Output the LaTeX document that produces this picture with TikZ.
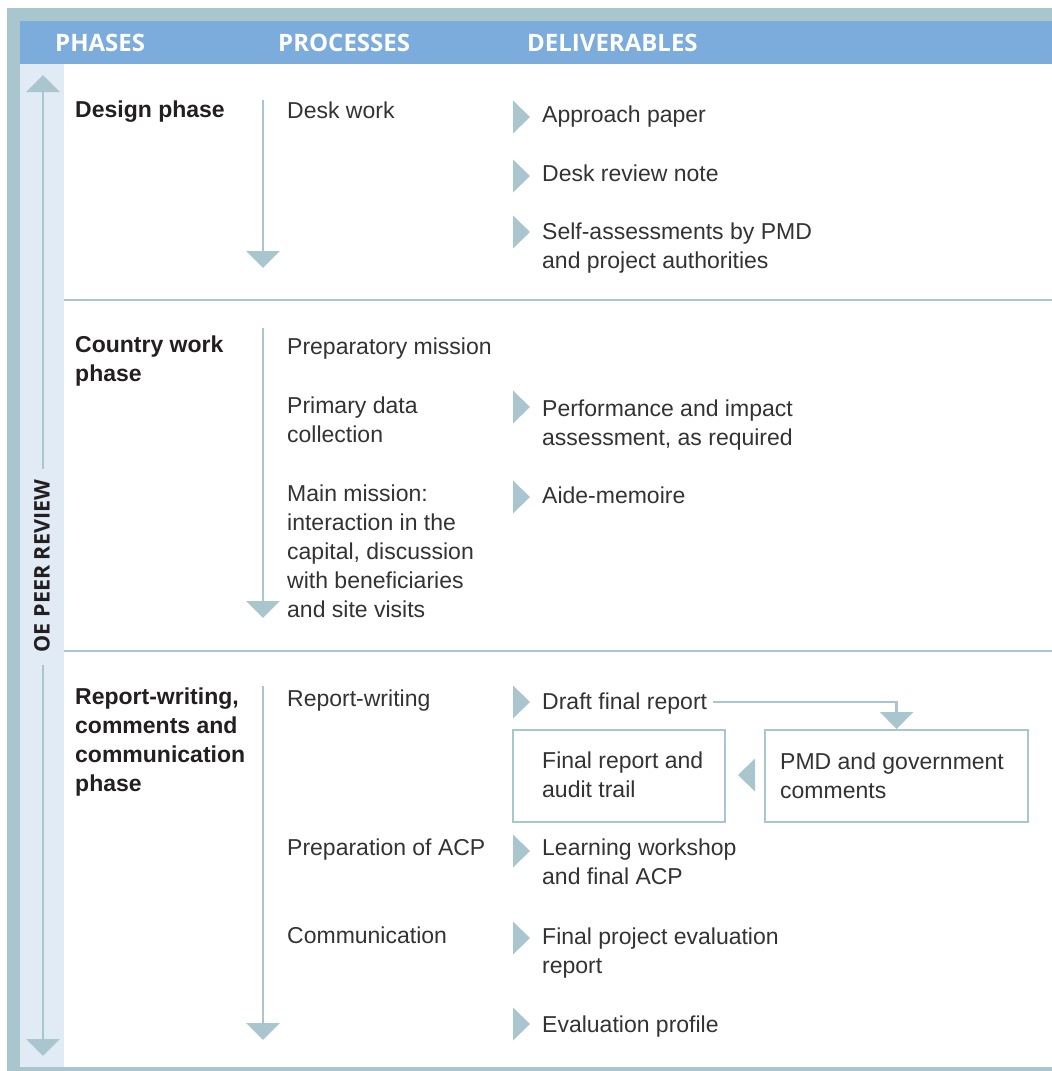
\documentclass[tikz,border=0pt]{standalone}
\usepackage{fontspec}
\setmainfont{Liberation Sans}
\newfontfamily\headfont{Open Sans}
\usetikzlibrary{arrows.meta}
\definecolor{frame}{HTML}{A9C6CE}
\definecolor{headblue}{HTML}{7BACDB}
\definecolor{strip}{HTML}{E1EBF6}
\definecolor{txt}{HTML}{333333}
\definecolor{dark}{HTML}{231F20}
\begin{document}
\begin{tikzpicture}[x=1pt,y=-1pt,
  flow/.style={draw=frame, line width=2.4pt, -{Triangle[width=33pt,length=17pt]}},
  plain/.style={draw=frame, line width=2.4pt},
  body/.style={anchor=base west, inner sep=0pt, text=txt, font=\fontsize{23}{28.8}\selectfont, align=left},
  phase/.style={body, text=dark, font=\fontsize{23}{28.8}\selectfont\bfseries},
  head/.style={anchor=base west, inner sep=0pt, text=white, font=\headfont\bfseries\fontsize{24}{28}\selectfont},
  boxst/.style={draw=frame, line width=2.2pt, anchor=north west, minimum height=92pt, inner sep=0pt},
  mk/.pic={\fill[frame] (-8,-16.5) -- (9,0) -- (-8,16.5) -- cycle;},
  mkl/.pic={\fill[frame] (9,-16.5) -- (-8,0) -- (9,16.5) -- cycle;},
]
\useasboundingbox (0,0) rectangle (1052,1071);
\fill[white] (0,0) rectangle (1052,1071);
\fill[frame] (7,8) rectangle (1052,1071);
\fill[white] (20,21) rectangle (1052,1067);
\fill[headblue] (20,21) rectangle (1052,64);
\fill[strip] (20,64) rectangle (64,1067);

% header
\node[head] (hph) at (55,51) {PHASES};
\node[head] (hpr) at (278,51) {PROCESSES};
\node[head] (hde) at (527,51) {DELIVERABLES};

% separators
\coordinate (s1a) at (64,300); \coordinate (s1b) at (1052,300);
\coordinate (s2a) at (64,651); \coordinate (s2b) at (1052,651);
\draw[plain] (s1a) -- (s1b);
\draw[plain] (s2a) -- (s2b);

% left review arrow
\node[rotate=90, inner sep=0pt, text=dark, font=\headfont\bfseries\fontsize{21.5}{24}\selectfont] (oe) at (42,566) {OE PEER REVIEW};
\coordinate (la) at (43,469); \coordinate (lt) at (43,75);
\coordinate (lb) at (43,665); \coordinate (lbt) at (43,1056);
\draw[flow] (la) -- (lt);
\draw[flow] (lb) -- (lbt);

% phases (multi-line nodes: base = last line)
\node[phase] (ph1) at (75,117) {Design phase};
\node[phase] (ph2) at (75,381) {Country work\\phase};
\node[phase] (ph3) at (75,791) {Report-writing,\\comments and\\communication\\phase};

% process arrows
\coordinate (p1a) at (263,100); \coordinate (p1b) at (263,268);
\coordinate (p2a) at (263,328); \coordinate (p2b) at (263,618);
\coordinate (p3a) at (263,686); \coordinate (p3b) at (263,1040);
\draw[flow] (p1a) -- (p1b);
\draw[flow] (p2a) -- (p2b);
\draw[flow] (p3a) -- (p3b);

% processes
\node[body] (pr1) at (287,118) {Desk work};
\node[body] (pr2) at (287,354) {Preparatory mission};
\node[body] (pr3) at (287,442) {Primary data\\collection};
\node[body] (pr4) at (287,617) {Main mission:\\interaction in the\\capital, discussion\\with beneficiaries\\and site visits};
\node[body] (pr5) at (287,706) {Report-writing};
\node[body] (pr6) at (287,855) {Preparation of ACP};
\node[body] (pr7) at (287,943) {Communication};

% deliverables
\pic at (521,117) {mk};
\node[body] (d1) at (542,122) {Approach paper};
\pic at (521,176) {mk};
\node[body] (d2) at (542,181) {Desk review note};
\pic at (521,232) {mk};
\node[body] (d3) at (542,268) {Self-assessments by PMD\\and project authorities};
\pic at (521,407) {mk};
\node[body] (d4) at (542,445) {Performance and impact\\assessment, as required};
\pic at (521,497) {mk};
\node[body] (d5) at (542,503) {Aide-memoire};
\pic at (521,702) {mk};
\node[body] (d6) at (542,709) {Draft final report};

\node[boxst, minimum width=212pt] (far) at (512,729) {};
\node[body] (fart) at (542,797) {Final report and\\audit trail};
\node[boxst, minimum width=263pt] (pmd) at (764,729) {};
\node[body] (pmdt) at (780,798) {PMD and government\\comments};
\pic at (746,775) {mkl};
\coordinate (dl) at (713,702);
\draw[flow] (dl) -| (pmd.north);

\pic at (521,851) {mk};
\node[body] (d7) at (542,884) {Learning workshop\\and final ACP};
\pic at (521,938) {mk};
\node[body] (d8) at (542,973) {Final project evaluation\\report};
\pic at (521,1024) {mk};
\node[body] (d9) at (542,1032) {Evaluation profile};
\end{tikzpicture}
\end{document}
